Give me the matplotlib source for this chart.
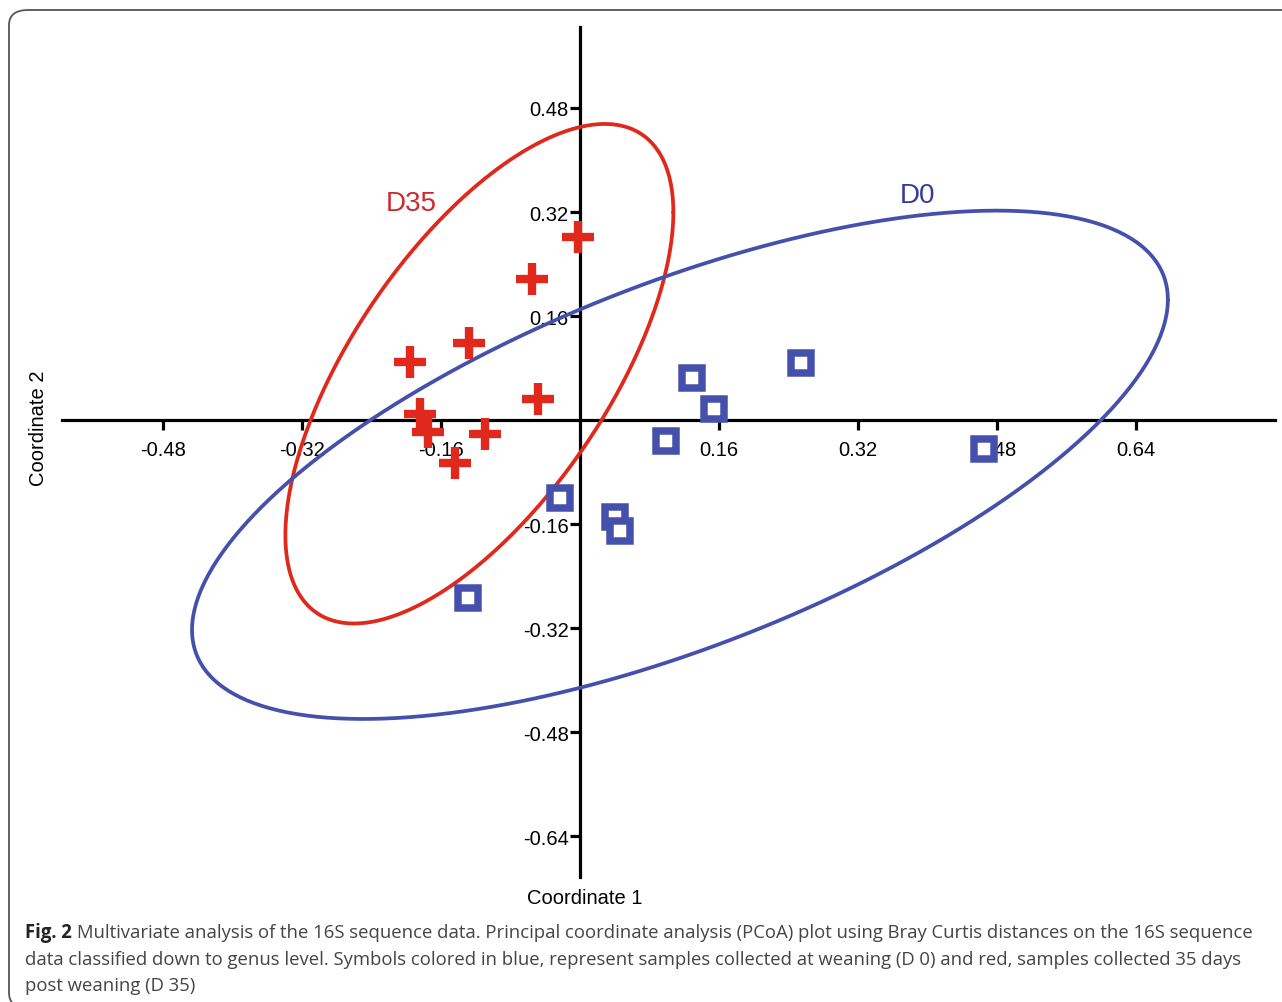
import numpy as np
import matplotlib
matplotlib.use("Agg")
import matplotlib.pyplot as plt
from matplotlib.patches import FancyBboxPatch

# PCoA scores
d35_x = [-0.002, -0.055, -0.128, -0.196, -0.048, -0.184, -0.175, -0.109, -0.144]
d35_y = [0.282, 0.217, 0.118, 0.089, 0.032, 0.009, -0.018, -0.022, -0.066]
d0_x = [0.2546, 0.1287, 0.1546, 0.0996, 0.465, -0.023, 0.040, 0.046, -0.129]
d0_y = [0.088, 0.064, 0.017, -0.032, -0.044, -0.120, -0.149, -0.170, -0.274]

x_ticks = [-0.48, -0.32, -0.16, 0.16, 0.32, 0.48, 0.64]
y_ticks = [-0.64, -0.48, -0.32, -0.16, 0.16, 0.32, 0.48]

red = "#e0281c"
blue = "#4550ad"


def ellipse95(x, y, p=0.95, n_pts=400):
	# 95% ellipse, F(2, n-2) quantile in closed form
	x = np.asarray(x); y = np.asarray(y)
	n = len(x)
	v = n - 2
	f = v / 2.0 * ((1 - p) ** (-2.0 / v) - 1)
	k2 = 2.0 * (n - 1) / (n - 2) * f
	cov = np.cov(x, y) * k2
	L = np.linalg.cholesky(cov)
	t = np.linspace(0, 2 * np.pi, n_pts)
	pts = L @ np.vstack([np.cos(t), np.sin(t)])
	return x.mean() + pts[0], y.mean() + pts[1]


plt.rcParams['font.family'] = ['Liberation Sans', 'DejaVu Sans']
fig = plt.figure(figsize=(12.82, 10.03), dpi=100)

# rounded frame around the figure (right and bottom run off the page)
frame = FancyBboxPatch((9 / 1282, -6 / 1003), 1400 / 1282, 998 / 1003,
	boxstyle="round,pad=0,rounding_size=0.015", transform=fig.transFigure,
	facecolor="none", edgecolor="#555555", linewidth=1.3, clip_on=False)
fig.patches.append(frame)

ax = fig.add_axes([62 / 1282, 125 / 1003, (1275 - 62) / 1282, (975 - 125) / 1003])
ax.set_xlim(-0.596, 0.800)
ax.set_ylim(-0.703, 0.6046)
ax.patch.set_alpha(0)

for s in ['top', 'right']:
	ax.spines[s].set_visible(False)
ax.spines['left'].set_position(('data', 0))
ax.spines['bottom'].set_position(('data', 0))
ax.spines['left'].set_linewidth(2.3)
ax.spines['bottom'].set_linewidth(2.3)

ax.set_xticks(x_ticks)
ax.set_xticklabels(["%.2f" % v for v in x_ticks])
ax.set_yticks(y_ticks)
ax.set_yticklabels(["%.2f" % v for v in y_ticks])
ax.tick_params(axis='x', direction='out', length=7, width=2.3, pad=7.5, labelsize=14.5)
ax.tick_params(axis='y', direction='out', length=7, width=2.3, pad=1, labelsize=14.5)

ex, ey = ellipse95(d35_x, d35_y)
ax.plot(ex, ey, color=red, lw=2.7, zorder=3, solid_capstyle='round', solid_joinstyle='round')
ex, ey = ellipse95(d0_x, d0_y)
ax.plot(ex, ey, color=blue, lw=2.7, zorder=3, solid_capstyle='round', solid_joinstyle='round')

ax.plot(d35_x, d35_y, linestyle='none', marker='+', markersize=23, markeredgewidth=6.0,
	color=red, zorder=4)
ax.plot(d0_x, d0_y, linestyle='none', marker='s', markersize=14, markeredgewidth=5.4,
	markeredgecolor=blue, markerfacecolor='white', zorder=4)

ax.text(-0.194, 0.334, "D35", color="#cc2a2e", fontsize=20, ha='center', va='center')
ax.text(0.389, 0.346, "D0", color="#363a9c", fontsize=20, ha='center', va='center')

fig.text(585 / 1282, 1 - 899 / 1003, "Coordinate 1", fontsize=14.5, ha='center', va='center')
fig.text(38 / 1282, 1 - 428 / 1003, "Coordinate 2", fontsize=14.5, ha='center', va='center',
	rotation=90)

# caption
cap_font = ['Open Sans', 'DejaVu Sans']
cap_size = 13.35
x0 = 25 / 1282
t = fig.text(x0, 1 - 938 / 1003, "Fig. 2", fontsize=cap_size, fontweight='bold',
	family=cap_font, color="#222222", va='baseline')
fig.canvas.draw()
bb = t.get_window_extent()
fig.text((bb.x1 + 5) / 1282, 1 - 938 / 1003,
	"Multivariate analysis of the 16S sequence data. Principal coordinate analysis (PCoA) plot using Bray Curtis distances on the 16S sequence",
	fontsize=cap_size, family=cap_font, color="#444444", va='baseline')
fig.text(x0, 1 - 965 / 1003,
	"data classified down to genus level. Symbols colored in blue, represent samples collected at weaning (D 0) and red, samples collected 35 days",
	fontsize=cap_size, family=cap_font, color="#444444", va='baseline')
fig.text(x0, 1 - 991 / 1003, "post weaning (D 35)",
	fontsize=cap_size, family=cap_font, color="#444444", va='baseline')

fig.savefig("out.png", dpi=100)
